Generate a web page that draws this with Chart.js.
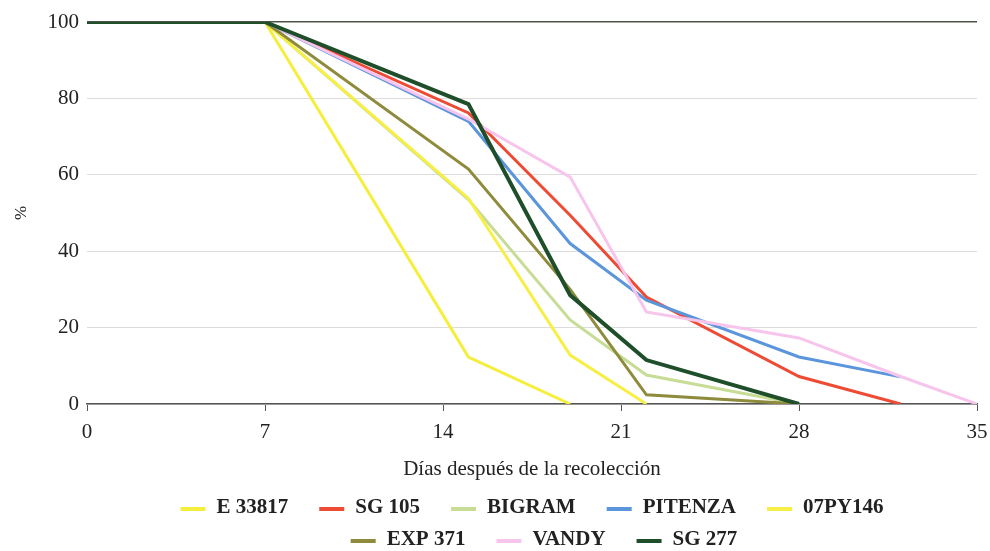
<!DOCTYPE html>
<html>
<head>
<meta charset="utf-8">
<script src="https://cdn.jsdelivr.net/npm/chart.js@4/dist/chart.umd.min.js"></script>
<style>
  body { margin: 0; background: #fff; }
  canvas { display: block; }
</style>
</head>
<body>
<canvas id="myChart" width="990" height="551"></canvas>
<script>
'use strict';

// days after harvest
const days = [0, 7, 15, 19, 22, 28, 32, 35];
const xTicks = [0, 7, 14, 21, 28, 35];
const yTicks = [0, 20, 40, 60, 80, 100];

const names = ['E 33817', 'SG 105', 'BIGRAM', 'PITENZA', '07PY146', 'EXP 371', 'VANDY', 'SG 277'];
const e33817 = [100, 100, 12.3, 0, null, null, null, null];
const sg105 = [100, 100, 76.2, 49.4, 28, 7.2, 0, null];
const bigram = [100, 100, 53.5, 22, 7.6, 0, null, null];
const pitenza = [100, 100, 74, 42, 27.2, 12.3, 7.1, null];
const py146 = [100, 100, 53.8, 12.8, 0, null, null, null];
const exp371 = [100, 100, 61.5, 30, 2.4, 0, null, null];
const vandy = [100, 100, 74.6, 59.4, 24.1, 17.3, 7.2, 0];
const sg277 = [100, 100, 78.5, 28.5, 11.5, 0, null, null];

const series = [e33817, sg105, bigram, pitenza, py146, exp371, vandy, sg277];
const colors = ['#f5ee3c', '#ee4b35', '#c7dc94', '#5b95dc', '#f7ef45', '#8e8b3c', '#f7c5ec', '#1f4f2a'];
const widths = [3, 3, 3, 3, 3, 3, 3, 4];

const serif = '"Liberation Serif", "Times New Roman", serif';

function points(values) {
  let pts = [];
  for (let i = 0; i < days.length; i++) {
    if (values[i] !== null) pts.push({x: days[i], y: values[i]});
  }
  return pts;
}

let datasets = [];
for (let i = 0; i < names.length; i++) {
  datasets.push({
    label: names[i],
    data: points(series[i]),
    borderColor: colors[i],
    backgroundColor: colors[i],
    borderWidth: widths[i],
    pointRadius: 0,
    tension: 0,
    order: names.length - i
  });
}

// legend drawn by hand so the two rows break like the original
const legendRows = [[0, 1, 2, 3, 4], [5, 6, 7]];
const legendY = [508, 540];
const legendShift = [0, 12];

const bottomLegend = {
  id: 'bottomLegend',
  afterDraw(chart) {
    const ctx = chart.ctx;
    const area = chart.chartArea;
    const cx = (area.left + area.right) / 2;
    ctx.save();
    ctx.font = 'bold 21px ' + serif;
    ctx.textBaseline = 'middle';
    ctx.textAlign = 'left';
    legendRows.forEach((row, r) => {
      let total = 0;
      row.forEach((i, k) => {
        total += 25 + 11 + ctx.measureText(names[i]).width;
        if (k > 0) total += 31;
      });
      let x = cx - total / 2 + legendShift[r];
      const y = legendY[r];
      row.forEach(i => {
        ctx.strokeStyle = colors[i];
        ctx.lineWidth = 4;
        ctx.beginPath();
        ctx.moveTo(x, y + 1);
        ctx.lineTo(x + 25, y + 1);
        ctx.stroke();
        ctx.fillStyle = '#222';
        ctx.fillText(names[i], x + 36, y);
        x += 36 + ctx.measureText(names[i]).width + 31;
      });
    });
    ctx.restore();
  }
};

const ctx = document.getElementById('myChart').getContext('2d');
const chart = new Chart(ctx, {
  type: 'line',
  data: { datasets: datasets },
  options: {
    responsive: false,
    animation: false,
    layout: { padding: { top: 22, right: 13, left: 0, bottom: 64 } },
    plugins: {
      legend: { display: false },
      tooltip: { enabled: false }
    },
    scales: {
      x: {
        type: 'linear',
        min: 0,
        max: 35,
        afterBuildTicks: s => { s.ticks = xTicks.map(v => ({value: v})); },
        afterFit: s => { s.height = 83; s.paddingRight = 0; s.paddingLeft = 0; },
        ticks: { color: '#222', padding: 9, font: { family: serif, size: 21 } },
        grid: { drawOnChartArea: false, tickLength: 7, color: '#555' },
        border: { color: '#555', width: 1.5 },
        title: {
          display: true,
          text: 'Días después de la recolección',
          color: '#222',
          font: { family: serif, size: 21 },
          padding: { top: 4, bottom: 5 }
        }
      },
      y: {
        min: 0,
        max: 100,
        afterBuildTicks: s => { s.ticks = yTicks.map(v => ({value: v})); },
        afterFit: s => { s.width = 87; s.paddingTop = 0; s.paddingBottom = 0; },
        ticks: { color: '#222', padding: 8, font: { family: serif, size: 21 } },
        grid: {
          drawTicks: false,
          color: c => (c.tick && c.tick.value === 100) ? '#4d5546' : '#dcdcdc',
          lineWidth: c => (c.tick && c.tick.value === 100) ? 1.5 : 1
        },
        border: { display: false },
        title: {
          display: true,
          text: '%',
          color: '#222',
          font: { family: serif, size: 17 },
          padding: 11
        }
      }
    }
  },
  plugins: [bottomLegend]
});
</script>
</body>
</html>
